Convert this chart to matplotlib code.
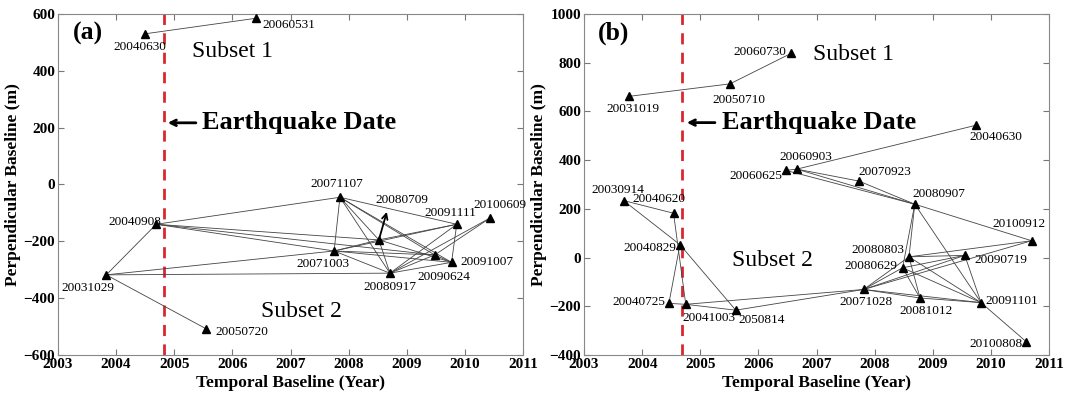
import matplotlib
matplotlib.use("Agg")
import matplotlib.pyplot as plt

plt.rcParams['font.family'] = ['Liberation Serif', 'DejaVu Serif']

# ---- panel (a) ----
a_names = ['20040630', '20060531', '20040908', '20031029', '20050720', '20071107',
           '20080709', '20091111', '20100609', '20071003', '20091007', '20090624',
           '20080917']
a_x = [2004.49, 2006.41, 2004.69, 2003.83, 2005.55, 2007.85,
       2008.52, 2009.86, 2010.44, 2007.75, 2009.77, 2009.48,
       2008.71]
a_y = [530, 585, -140, -318, -508, -45,
       -195, -140, -117, -234, -274, -248,
       -312]
a_edges = [('20040630', '20060531'),
           ('20031029', '20040908'), ('20031029', '20050720'), ('20031029', '20080917'),
           ('20031029', '20071003'),
           ('20040908', '20071107'), ('20040908', '20071003'), ('20040908', '20080709'),
           ('20040908', '20090624'),
           ('20071107', '20071003'), ('20071107', '20080917'), ('20071107', '20090624'),
           ('20071107', '20091007'), ('20071107', '20091111'), ('20071107', '20080709'),
           ('20071003', '20080709'), ('20071003', '20091111'), ('20071003', '20090624'),
           ('20071003', '20091007'), ('20071003', '20080917'),
           ('20080709', '20080917'), ('20080709', '20091007'), ('20080709', '20091111'),
           ('20080917', '20091111'), ('20080917', '20100609'), ('20080917', '20090624'),
           ('20080917', '20091007'),
           ('20091111', '20091007'), ('20100609', '20090624'), ('20090624', '20091007')]
a_quake = 2004.83

# ---- panel (b) ----
b_names = ['20060730', '20050710', '20031019', '20040630', '20060903', '20060625',
           '20070923', '20080907', '20030914', '20040620', '20040829', '20040725',
           '20041003', '2050814', '20071028', '20081012', '20091101', '20100808',
           '20100912', '20090719', '20080803', '20080629']
b_x = [2006.56, 2005.51, 2003.78, 2009.74, 2006.66, 2006.47,
       2007.73, 2008.69, 2003.68, 2004.54, 2004.65, 2004.46,
       2004.75, 2005.61, 2007.81, 2008.78, 2009.83, 2010.61,
       2010.70, 2009.55, 2008.59, 2008.48]
b_y = [838, 713, 662, 543, 363, 358,
       314, 219, 234, 182, 53, -188,
       -192, -216, -131, -166, -185, -346,
       69, 9, 3, -42]
b_edges = [('20031019', '20050710'), ('20050710', '20060730'),
           ('20060625', '20060903'), ('20060903', '20040630'), ('20060903', '20070923'),
           ('20060625', '20080907'), ('20060903', '20080907'), ('20070923', '20080907'),
           ('20080907', '20100912'), ('20080907', '20091101'), ('20080907', '20080803'),
           ('20080907', '20080629'),
           ('20080803', '20100912'), ('20080803', '20090719'), ('20080803', '20091101'),
           ('20080803', '20081012'), ('20080803', '20071028'),
           ('20080629', '20081012'), ('20080629', '20091101'), ('20080629', '20090719'),
           ('20071028', '20090719'), ('20071028', '20100912'), ('20071028', '20081012'),
           ('20071028', '20091101'), ('20071028', '20080629'),
           ('20090719', '20091101'), ('20091101', '20100808'), ('20081012', '20091101'),
           ('20030914', '20040620'), ('20030914', '20040829'), ('20040620', '20041003'),
           ('20040829', '20040725'), ('20040829', '2050814'), ('20040725', '20041003'),
           ('20041003', '2050814'), ('20041003', '20071028'), ('2050814', '20071028')]
b_quake = 2004.68

# label offsets in pixels (dx right, dy down) from each point
a_off = {'20040630': (-5, 13), '20060531': (33, 7), '20040908': (-21, -2),
         '20031029': (-18, 13), '20050720': (36, 3), '20071107': (-3, -13),
         '20080709': (23, -41), '20091111': (-6, -11), '20100609': (9, -13),
         '20071003': (-11, 13), '20091007': (35, 0), '20090624': (9, 22),
         '20080917': (0, 14)}
b_off = {'20060730': (-31, -1), '20050710': (9, 16), '20031019': (4, 13),
         '20040630': (20, 12), '20060903': (9, -12), '20060625': (-30, 6),
         '20070923': (26, -9), '20080907': (24, -10), '20030914': (-6, -11),
         '20040620': (-15, -14), '20040829': (-30, 3), '20040725': (-30, -1),
         '20041003': (23, 14), '2050814': (26, 10), '20071028': (2, 13),
         '20081012': (6, 13), '20091101': (31, -2), '20100808': (-30, 2),
         '20100912': (-13, -17), '20090719': (36, 5), '20080803': (-31, -7),
         '20080629': (-32, -2)}

fig = plt.figure(figsize=(10.72, 3.97), dpi=100)
ax_a = fig.add_axes([0.0541, 0.1058, 0.4338, 0.859])
ax_b = fig.add_axes([0.5448, 0.1058, 0.4338, 0.859])


def draw(ax, names, xs, ys, edges, offs, quake, ylim, yticks):
    pos = {n: (x, y) for n, x, y in zip(names, xs, ys)}
    for p, q in edges:
        ax.plot([pos[p][0], pos[q][0]], [pos[p][1], pos[q][1]],
                color='#444444', lw=0.6, zorder=2)
    ax.plot(xs, ys, '^', color='black', ms=6, zorder=3)
    for n in names:
        dx, dy = offs[n]
        if n == '20080709' and ax is ax_a:
            continue
        ax.annotate(n, pos[n], xytext=(dx * 0.72, -dy * 0.72), textcoords='offset points',
                    ha='center', va='center', fontsize=9.5)
    ax.axvline(quake, color='#d8282f', lw=2, ls=(0, (4, 3)), zorder=1)
    ax.set_xlim(2003, 2011)
    ax.set_ylim(*ylim)
    ax.set_xticks(range(2003, 2012))
    ax.set_yticks(yticks)
    ax.tick_params(direction='in', top=True, right=True, length=4, color='#777777',
                   labelsize=11, pad=2)
    for lab in ax.get_xticklabels() + ax.get_yticklabels():
        lab.set_fontweight('bold')
    for s in ax.spines.values():
        s.set_color('#888888')
        s.set_linewidth(0.8)
    ax.set_xlabel('Temporal Baseline (Year)', fontsize=12.5, fontweight='bold', labelpad=3)
    ax.set_ylabel('Perpendicular Baseline (m)', fontsize=12.5, fontweight='bold', labelpad=2)


draw(ax_a, a_names, a_x, a_y, a_edges, a_off, a_quake, (-600, 600), range(-600, 601, 200))
draw(ax_b, b_names, b_x, b_y, b_edges, b_off, b_quake, (-400, 1000), range(-400, 1001, 200))

# 20080709 in panel (a) is pointed to by an arrow
ax_a.annotate('', xy=(2008.67, -87), xytext=(2008.52, -195),
              arrowprops=dict(arrowstyle='->', lw=1.3, color='black'), zorder=4)
ax_a.text(2008.92, -54, '20080709', ha='center', va='center', fontsize=9.5)

# panel texts
ax_a.text(2003.26, 532, '(a)', fontsize=18.5, fontweight='bold', va='center')
ax_a.text(2005.3, 467, 'Subset 1', fontsize=17, va='center')
ax_a.text(2006.5, -447, 'Subset 2', fontsize=17, va='center')
ax_a.annotate('', xy=(2004.84, 217), xytext=(2005.42, 217),
              arrowprops=dict(arrowstyle='->', lw=2, color='black'))
ax_a.text(2005.48, 217, 'Earthquake Date', fontsize=19, fontweight='bold', va='center')

ax_b.text(2003.24, 921, '(b)', fontsize=18.5, fontweight='bold', va='center')
ax_b.text(2006.94, 835, 'Subset 1', fontsize=17, va='center')
ax_b.text(2005.54, -12, 'Subset 2', fontsize=17, va='center')
ax_b.annotate('', xy=(2004.72, 554), xytext=(2005.30, 554),
              arrowprops=dict(arrowstyle='->', lw=2, color='black'))
ax_b.text(2005.38, 554, 'Earthquake Date', fontsize=19, fontweight='bold', va='center')

fig.savefig('out.png', dpi=100)
